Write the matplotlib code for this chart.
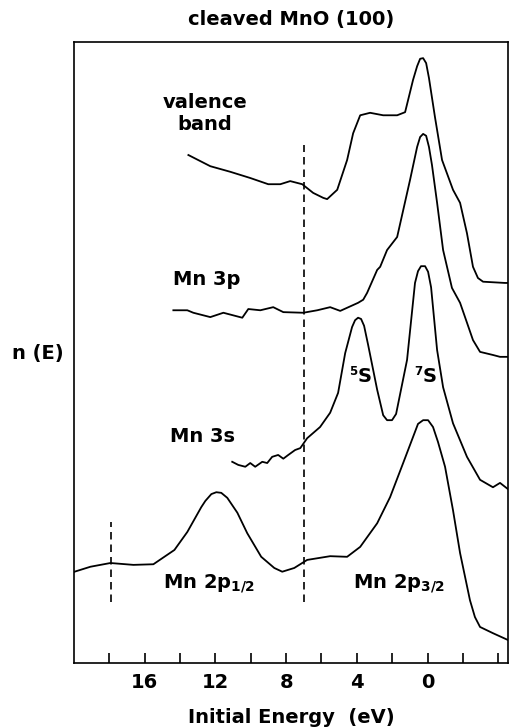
#!/usr/bin/python3

import matplotlib
matplotlib.use("Agg")
import matplotlib.pyplot as plt

# photoemission spectra of cleaved MnO(100), energies in eV, n(E) in arb. units

valence_e = [13.53, 12.29, 11.16, 10.03, 9.01, 8.33, 7.77, 7.09, 6.47, 5.90, 5.68,
             5.11, 4.55, 4.21, 3.81, 3.25, 2.51, 1.72, 1.27, 0.82, 0.59, 0.42,
             0.25, 0.08, -0.08, -0.42, -0.82, -1.44, -1.84, -2.23, -2.57, -2.85,
             -3.14, -4.38, -4.55]
valence_n = [81.8, 80.0, 79.1, 78.1, 77.1, 77.1, 77.6, 77.1, 75.7, 74.9, 74.7,
             76.2, 81.0, 85.3, 88.2, 88.6, 88.2, 88.2, 88.7, 93.9, 96.1, 97.3,
             97.4, 96.6, 94.2, 87.9, 81.0, 76.2, 74.1, 69.2, 63.8, 62.0,
             61.4, 61.2, 61.2]

mn3p_e = [14.38, 13.59, 13.25, 12.29, 11.55, 10.48, 10.14, 9.46, 8.73, 8.16, 7.03,
          6.24, 5.51, 4.94, 3.93, 3.64, 3.42, 2.85, 2.68, 2.29, 1.72, 0.99, 0.59,
          0.42, 0.25, 0.08, -0.08, -0.25, -0.54, -0.88, -1.38, -1.84, -2.23,
          -2.57, -2.97, -3.70, -4.10, -4.55]
mn3p_n = [56.8, 56.8, 56.4, 55.7, 56.4, 55.6, 57.0, 56.8, 57.3, 56.5, 56.4,
          56.8, 57.3, 56.7, 58.0, 58.5, 59.6, 63.3, 63.8, 66.5, 68.6, 77.8, 83.1,
          84.7, 85.2, 84.9, 83.1, 80.2, 74.1, 66.5, 60.4, 58.0, 54.8,
          52.0, 50.1, 49.6, 49.3, 49.3]

mn3s_e = [11.05, 10.71, 10.31, 10.03, 9.75, 9.35, 9.07, 8.79, 8.45, 8.16, 7.88,
          7.49, 7.20, 6.81, 6.08, 5.51, 5.06, 4.66, 4.27, 4.10, 3.93, 3.76, 3.59,
          3.36, 2.85, 2.51, 2.29, 2.01, 1.78, 1.16, 0.71, 0.54, 0.37, 0.14,
          -0.03, -0.20, -0.54, -0.88, -1.44, -2.23, -2.97, -3.70, -4.10, -4.55]
mn3s_n = [32.4, 31.9, 31.6, 32.2, 31.6, 32.4, 32.2, 33.2, 33.5, 32.9, 33.5,
          34.3, 34.6, 36.2, 38.0, 40.3, 43.5, 49.9, 54.1, 55.2, 55.6, 55.4, 54.3,
          51.2, 44.0, 39.9, 39.1, 39.1, 40.1, 48.8, 61.2, 63.1, 63.9, 63.9,
          63.0, 60.5, 50.4, 44.4, 38.6, 33.2, 29.5, 28.3, 29.0, 28.0]

mn2p_e = [19.97, 19.07, 17.94, 16.64, 15.51, 14.89, 14.32, 13.59, 12.80, 12.57,
          12.23, 11.95, 11.67, 11.33, 10.76, 10.20, 9.41, 8.67, 8.22, 7.54, 6.81,
          5.51, 4.55, 3.81, 2.85, 2.12, 1.38, 0.82, 0.54, 0.25, -0.03, -0.31,
          -0.59, -0.99, -1.44, -1.84, -2.40, -2.68, -2.97, -3.70, -4.55]
mn2p_n = [14.7, 15.5, 16.1, 15.8, 15.9, 17.1, 18.2, 21.1, 25.1, 26.1,
          27.2, 27.5, 27.4, 26.6, 24.2, 20.9, 17.1, 15.3, 14.7, 15.3, 16.6,
          17.2, 17.1, 18.7, 22.5, 26.7, 32.2, 36.4, 38.5, 39.1, 39.1, 38.0,
          35.6, 31.6, 24.6, 17.7, 10.1, 7.4, 5.8, 4.8, 3.7]

# dashed markers: (energy, n_low, n_high)
markers = [(7.0, 9.8, 83.4), (17.9, 9.8, 22.7)]

tick_pos = [18, 16, 14, 12, 10, 8, 6, 4, 2, 0, -2, -4]
tick_lab = ["", "16", "", "12", "", "8", "", "4", "", "0", "", ""]

#_____________________________________________________________________________
def main():

    plt.rcParams["font.family"] = ["DejaVu Sans"]
    plt.rcParams["font.weight"] = "bold"
    plt.rcParams["axes.titleweight"] = "bold"
    plt.rcParams["axes.labelweight"] = "bold"
    plt.rcParams["mathtext.fontset"] = "custom"
    plt.rcParams["mathtext.rm"] = "DejaVu Sans:bold"
    plt.rcParams["mathtext.it"] = "DejaVu Sans:bold"
    plt.rcParams["mathtext.bf"] = "DejaVu Sans:bold"
    plt.rcParams["mathtext.default"] = "rm"

    fig = plt.figure(figsize=(5.09, 7.28), dpi=100)
    ax = fig.add_axes([0.1454, 0.0893, 0.8526, 0.853])

    col = "black"
    lw = 1.3

    for e, n in [(valence_e, valence_n), (mn3p_e, mn3p_n),
                 (mn3s_e, mn3s_n), (mn2p_e, mn2p_n)]:
        ax.plot(e, n, color=col, lw=lw, solid_joinstyle="round")

    for e, lo, hi in markers:
        ax.plot([e, e], [lo, hi], color=col, lw=1.2, linestyle=(0, (4.5, 3)))

    ax.set_xlim(20, -4.55)
    ax.set_ylim(0, 100)

    ax.set_xticks(tick_pos)
    ax.set_xticklabels(tick_lab)
    ax.set_yticks([])
    ax.tick_params(axis="x", direction="in", length=7, width=1.2, pad=7, labelsize=14)
    for s in ax.spines.values():
        s.set_linewidth(1.2)

    fs = 14
    ax.text(12.6, 89.3, "valence", fontsize=fs, ha="center")
    ax.text(12.6, 85.9, "band", fontsize=fs, ha="center")
    ax.text(14.38, 60.9, "Mn 3p", fontsize=fs, ha="left")
    ax.text(14.55, 35.6, "Mn 3s", fontsize=fs, ha="left")
    # term labels of the two 3s multiplet peaks
    ax.text(4.18, 46.4, "5", fontsize=8.5, ha="center")
    ax.text(3.55, 45.2, "S", fontsize=fs, ha="center")
    ax.text(0.55, 46.4, "7", fontsize=8.5, ha="center")
    ax.text(-0.1, 45.2, "S", fontsize=fs, ha="center")
    ax.text(14.94, 12.1, r"Mn 2p$_{1/2}$", fontsize=fs, ha="left")
    ax.text(4.21, 12.1, r"Mn 2p$_{3/2}$", fontsize=fs, ha="left")

    ax.set_title("cleaved MnO (100)", fontsize=14, pad=12)
    ax.set_xlabel("Initial Energy  (eV)", fontsize=14, labelpad=12)
    fig.text(0.075, 0.515, "n (E)", fontsize=14, ha="center", va="center")

    fig.savefig("out.png", dpi=100)
    plt.close()

#main

#_____________________________________________________________________________
if __name__ == "__main__":

    main()
